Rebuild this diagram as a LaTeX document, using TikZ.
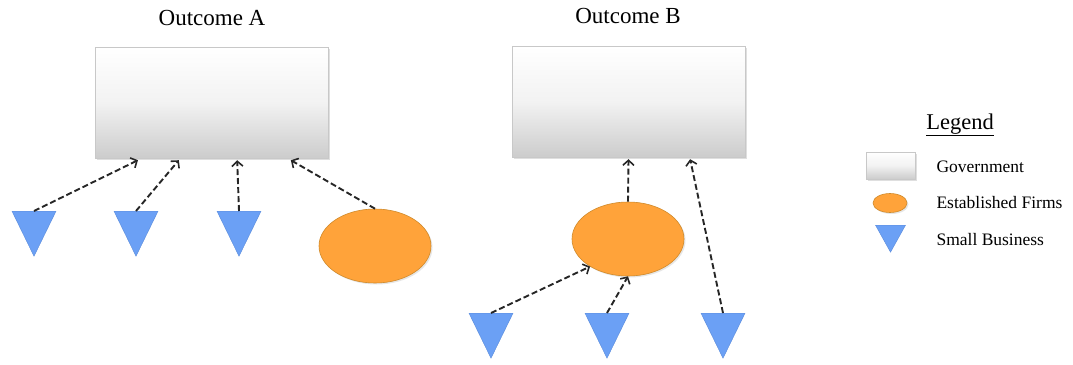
\documentclass[tikz,border=0pt]{standalone}
\usepackage{fontspec}
\setmainfont{Liberation Serif}
\usetikzlibrary{arrows.meta, shapes.geometric, shadows, calc}
\definecolor{govedge}{HTML}{C8C8C8}
\definecolor{firmfill}{HTML}{FFA33A}
\definecolor{firmedge}{HTML}{D08A2A}
\definecolor{bizfill}{HTML}{6BA0F5}
\definecolor{bizedge}{HTML}{5A8BDB}

\begin{document}
\begin{tikzpicture}[
    x=1pt, y=-1pt,
    title/.style={font=\fontsize{23}{27}\selectfont},
    legtext/.style={font=\fontsize{17.5}{21}\selectfont, anchor=west},
    gov/.style={rectangle, draw=govedge, line width=0.4pt, inner sep=0pt,
        top color=white, bottom color=black!20, middle color=white!95!black,
        drop shadow={shadow xshift=2pt, shadow yshift=-2pt, opacity=0.25}},
    firm/.style={ellipse, draw=firmedge, line width=0.6pt, inner sep=0pt, fill=firmfill,
        drop shadow={shadow xshift=1.5pt, shadow yshift=-1.5pt, opacity=0.2}},
    biz/.style={isosceles triangle, isosceles triangle stretches, shape border rotate=270,
        draw=bizedge, fill=bizfill, line width=0.4pt, inner sep=0pt, anchor=north},
    link/.style={black!85, line width=1.9pt, dash pattern=on 6pt off 3pt,
        -{Straight Barb[length=5pt, width=11pt, line width=1.6pt]}},
]
\useasboundingbox (0,0) rectangle (1073,364);

% outcome A
\node[title] (titA) at (212,18) {Outcome A};
\node[gov, minimum width=233, minimum height=111] (govA) at (211.5,102.5) {};
\node[biz, minimum width=44, minimum height=45] (tA1) at (34,211) {};
\node[biz, minimum width=44, minimum height=45] (tA2) at (136,211) {};
\node[biz, minimum width=44, minimum height=45] (tA3) at (239,211) {};
\node[firm, minimum width=112, minimum height=74] (eA) at (375,246) {};

\draw[link] (tA1.north) -- ($(govA.south west)!0.185!(govA.south east)+(0,2)$);
\draw[link] (tA2.north) -- ($(govA.south west)!0.36!(govA.south east)+(0,2)$);
\draw[link] (tA3.north) -- ($(govA.south west)!0.61!(govA.south east)+(0,2)$);
\draw[link] (eA.north) -- ($(govA.south west)!0.84!(govA.south east)+(0,2)$);

% outcome B
\node[title] (titB) at (628,16) {Outcome B};
\node[gov, minimum width=233, minimum height=111] (govB) at (628.5,101.5) {};
\node[firm, minimum width=112, minimum height=74] (eB) at (628,239) {};
\node[biz, minimum width=44, minimum height=45] (tB1) at (491,313) {};
\node[biz, minimum width=44, minimum height=45] (tB2) at (607,313) {};
\node[biz, minimum width=44, minimum height=45] (tB3) at (723,313) {};

\draw[link] (eB.north) -- ($(govB.south)+(0,2)$);
\draw[link] (tB3.north) -- ($(govB.south west)!0.764!(govB.south east)+(0,2)$);
\draw[link] (tB1.north) -- (eB.216);
\draw[link] (tB2.north) -- (eB.south);

% legend
\node[font=\fontsize{22.5}{27}\selectfont] (leg) at (960,125) {\underline{Legend}};
\node[gov, minimum width=49, minimum height=27] (lgov) at (890.5,165.5) {};
\node[firm, minimum width=34, minimum height=19] (lfirm) at (890,203) {};
\node[biz, minimum width=30, minimum height=27] (lbiz) at (890.5,225) {};
\node[legtext] (lgovt) at (933,167) {Government};
\node[legtext] (lfirmt) at (933,203) {Established Firms};
\node[legtext] (lbizt) at (933,240) {Small Business};
\end{tikzpicture}
\end{document}
